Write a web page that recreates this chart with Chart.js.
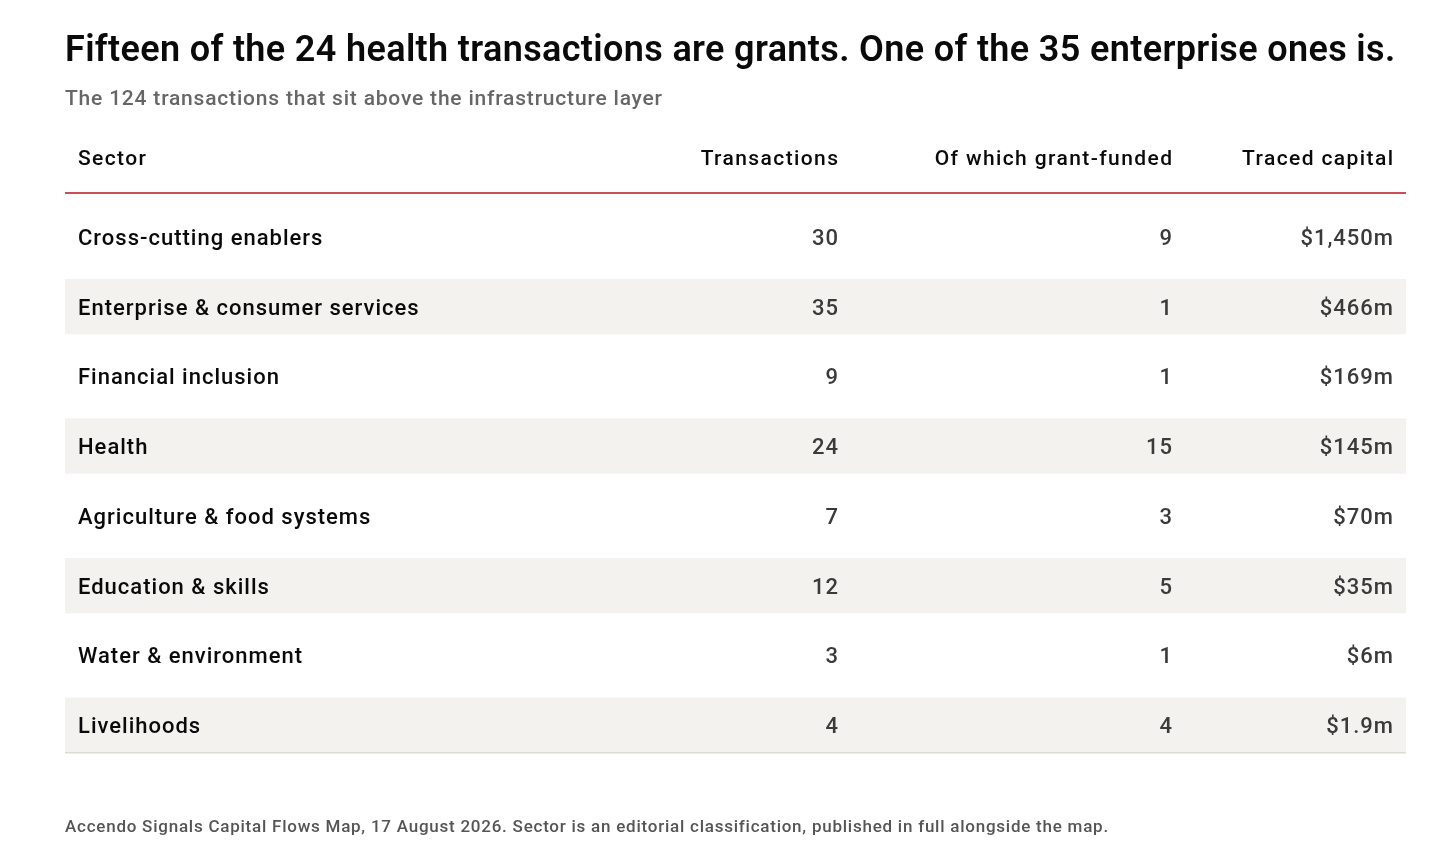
<!DOCTYPE html>
<html>
<head>
<meta charset="utf-8">
<script src="https://cdn.jsdelivr.net/npm/chart.js@4.4.1/dist/chart.umd.min.js"></script>
<style>
  html, body { margin: 0; padding: 0; background: #fff; }
  #wrap { width: 1456px; height: 863px; }
</style>
</head>
<body>
<div id="wrap"><canvas id="myChart"></canvas></div>
<script>
// Table content
const sectors = [
    'Cross-cutting enablers',
    'Enterprise & consumer services',
    'Financial inclusion',
    'Health',
    'Agriculture & food systems',
    'Education & skills',
    'Water & environment',
    'Livelihoods'
];
const transactions = [30, 35, 9, 24, 7, 12, 3, 4];
const grantFunded = [9, 1, 1, 15, 3, 5, 1, 4];
const tracedCapital = ['$1,450m', '$466m', '$169m', '$145m', '$70m', '$35m', '$6m', '$1.9m'];
const headers = ['Sector', 'Transactions', 'Of which grant-funded', 'Traced capital'];

const titleText = 'Fifteen of the 24 health transactions are grants. One of the 35 enterprise ones is.';
const subtitleText = 'The 124 transactions that sit above the infrastructure layer';
const footerText = 'Accendo Signals Capital Flows Map, 17 August 2026. Sector is an editorial classification, published in full alongside the map.';

const FONT = 'Roboto, "Noto Sans", sans-serif';

// column anchors in x-scale units (pixels from the table's left edge)
const colLeft = 13;
const colRight = [773, 1107, 1328];

// draw text with letter spacing; right-aligned text gets the trailing gap removed
function drawText(ctx, text, x, y, font, color, align, spacing) {
    ctx.font = font;
    ctx.fillStyle = color;
    ctx.textAlign = align;
    ctx.letterSpacing = spacing + 'px';
    ctx.fillText(text, align === 'right' ? x + spacing : x, y);
    ctx.letterSpacing = '0px';
}

const tablePlugin = {
    id: 'tableText',
    afterDatasetsDraw(chart) {
        const { ctx, chartArea, scales } = chart;
        const x = scales.x, y = scales.y;
        const bandH = y.getPixelForValue(1) - y.getPixelForValue(0);
        const stripeH = bandH * 0.79;
        ctx.save();
        ctx.textBaseline = 'alphabetic';

        // title block
        drawText(ctx, titleText, chartArea.left, 61, '600 36px ' + FONT, '#0a0a0a', 'left', 0.36);
        drawText(ctx, subtitleText, chartArea.left, 105, '500 21px ' + FONT, '#666666', 'left', 0.8);

        // header row
        const hFont = '500 21px ' + FONT;
        drawText(ctx, headers[0], x.getPixelForValue(colLeft), 165, hFont, '#0a0a0a', 'left', 1.4);
        for (let c = 0; c < 3; c++) {
            drawText(ctx, headers[c + 1], x.getPixelForValue(colRight[c]), 165, hFont, '#0a0a0a', 'right', 1.4);
        }

        // header rule
        ctx.strokeStyle = '#b8141c';
        ctx.lineWidth = 1.5;
        ctx.beginPath();
        ctx.moveTo(chartArea.left, 193);
        ctx.lineTo(chartArea.right, 193);
        ctx.stroke();

        // body rows
        const bFont = '500 22px ' + FONT;
        sectors.forEach((s, i) => {
            const py = y.getPixelForValue(i) + 8;
            drawText(ctx, s, x.getPixelForValue(colLeft), py, bFont, '#0a0a0a', 'left', 1.0);
            drawText(ctx, String(transactions[i]), x.getPixelForValue(colRight[0]), py, bFont, '#3a3a3a', 'right', 1.0);
            drawText(ctx, String(grantFunded[i]), x.getPixelForValue(colRight[1]), py, bFont, '#3a3a3a', 'right', 1.0);
            drawText(ctx, tracedCapital[i], x.getPixelForValue(colRight[2]), py, bFont, '#3a3a3a', 'right', 1.0);
        });

        // bottom rule under last row
        const lastY = y.getPixelForValue(sectors.length - 1) + stripeH / 2;
        ctx.strokeStyle = '#dedbd5';
        ctx.lineWidth = 1.5;
        ctx.beginPath();
        ctx.moveTo(chartArea.left, lastY);
        ctx.lineTo(chartArea.right, lastY);
        ctx.stroke();

        // footer
        drawText(ctx, footerText, chartArea.left, 832, '500 17px ' + FONT, '#555555', 'left', 0.76);
        ctx.restore();
    }
};

const ctx = document.getElementById('myChart').getContext('2d');
const myChart = new Chart(ctx, {
    type: 'bar',
    data: {
        labels: sectors,
        datasets: [
            {
                label: 'stripe',
                data: sectors.map(() => [0, 1341]), // full-width row bands
                backgroundColor: (c) => (c.dataIndex % 2 === 1 ? '#f3f2ee' : 'rgba(0,0,0,0)'),
                borderWidth: 0,
                barPercentage: 0.79,
                categoryPercentage: 1
            }
        ]
    },
    options: {
        indexAxis: 'y',
        responsive: true,
        maintainAspectRatio: false,
        animation: false,
        layout: {
            padding: { left: 65, right: 50, top: 202, bottom: 103 }
        },
        plugins: {
            legend: { display: false },
            tooltip: { enabled: false }
        },
        scales: {
            x: { type: 'linear', min: 0, max: 1341, display: false },
            y: { type: 'category', offset: true, display: false, grid: { display: false } }
        }
    },
    plugins: [tablePlugin]
});
</script>
</body>
</html>
